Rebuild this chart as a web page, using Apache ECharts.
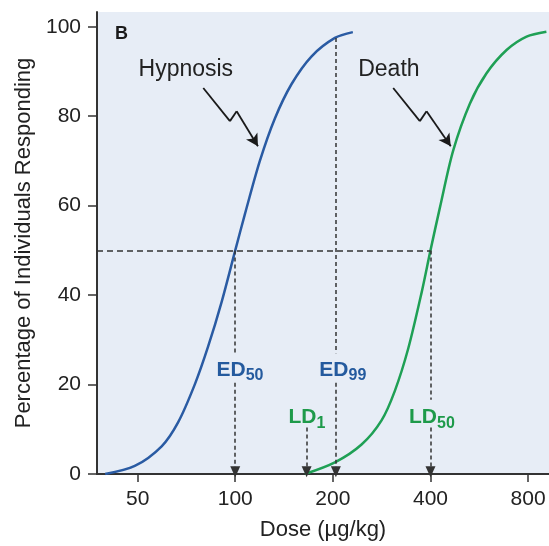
<!DOCTYPE html>
<html>
<head>
<meta charset="utf-8">
<script src="https://cdn.jsdelivr.net/npm/echarts@6/dist/echarts.min.js"></script>
<style>
  html, body { margin: 0; padding: 0; background: #fff; }
  #chart { width: 549px; height: 546px; }
</style>
</head>
<body>
<div id="chart"></div>
<script>
// dose (ug/kg) and % responding
var hypnosisDose = [39.7, 49.0, 59.3, 66.7, 75.1, 82.4, 90.8, 100, 107.1, 119.1, 132.5, 149.2, 172.0, 202.9, 230.5];
var hypnosisPct  = [0, 1.8, 6.2, 11.6, 20.1, 28.4, 38.5, 50, 58.1, 70.0, 79.5, 87.2, 93.4, 97.5, 98.8];
var deathDose = [164, 202.9, 245.2, 282.6, 310.6, 341.4, 375.4, 400, 427.5, 469.9, 529, 595.6, 686.6, 791.2, 911];
var deathPct  = [0, 2.6, 6.6, 12.0, 18.6, 28.0, 40.5, 50, 59.5, 72.3, 82.8, 89.6, 94.8, 97.8, 98.9];

var doseTicks = [50, 100, 200, 400, 800];
var pctTicks = [0, 20, 40, 60, 80, 100];
var doseRange = [37.47, 928];
var pctRange = [0, 103.3];

// guide lines: [dose1, pct1, dose2, pct2, arrowAtEnd]
var guideLines = [
  [37.47, 50, 400, 50, false],
  [100, 50, 100, 27, false],
  [100, 20.4, 100, 0.5, true],
  [204.3, 97.5, 204.3, 27, false],
  [204.3, 20.4, 204.3, 0.5, true],
  [166, 10.4, 166, 0.5, true],
  [400, 50, 400, 16.6, false],
  [400, 10.4, 400, 0.5, true]
];
// zigzag pointers: [dose, pct] vertices
var hypnosisPointer = [[79.7, 86.3], [96.3, 78.9], [101.0, 81.1], [117.5, 73.3]];
var deathPointer = [[307, 86.3], [370.9, 78.9], [389, 81.1], [462, 73.3]];

// text labels
var curveNames = [['Hypnosis', 70.4, 90.3], ['Death', 297.7, 90.3]];
var doseMarks = [
  ['ED', '50', 103.4, 23.2, 'blue'],
  ['ED', '99', 214.7, 23.2, 'blue'],
  ['LD', '1', 166.3, 12.6, 'green'],
  ['LD', '50', 404, 12.6, 'green']
];

var BLUE = '#2a5ba3';
var GREEN = '#1fa055';
var LBLUE = '#245a9e';
var LGREEN = '#1e9a4a';
var INK = '#222';
var FONT = 'Liberation Sans';

function lx(d) { return Math.log2(d); }
function zip(xs, ys) { return xs.map(function (x, i) { return [lx(x), ys[i]]; }); }

var markData = [];
guideLines.forEach(function (g) {
  markData.push([
    { coord: [lx(g[0]), g[1]], symbol: 'none' },
    { coord: [lx(g[2]), g[3]], symbol: g[4] ? 'triangle' : 'none', symbolSize: [10, 11],
      lineStyle: { type: g[1] === g[3] ? [6, 4] : [4, 3], color: '#333', width: 1.5 } }
  ]);
});
[hypnosisPointer, deathPointer].forEach(function (p) {
  for (var i = 0; i < p.length - 1; i++) {
    var last = i === p.length - 2;
    markData.push([
      { coord: [lx(p[i][0]), p[i][1]], symbol: 'none' },
      { coord: [lx(p[i + 1][0]), p[i + 1][1]], symbol: last ? 'arrow' : 'none', symbolSize: [10, 12],
        lineStyle: { type: 'solid', color: '#1a1a1a', width: 1.8 } }
    ]);
  }
});

var textData = [];
curveNames.forEach(function (c) {
  textData.push({ value: [lx(c[1]), c[2]], label: { formatter: c[0], color: INK, fontSize: 23 } });
});
doseMarks.forEach(function (m) {
  var col = m[4] === 'blue' ? LBLUE : LGREEN;
  textData.push({
    value: [lx(m[2]), m[3]],
    label: {
      formatter: '{a|' + m[0] + '}{b|' + m[1] + '}',
      rich: {
        a: { fontSize: 21, fontWeight: 'bold', color: col, fontFamily: FONT },
        b: { fontSize: 16, fontWeight: 'bold', color: col, fontFamily: FONT, padding: [11, 0, 0, 0] }
      }
    }
  });
});

var chart = echarts.init(document.getElementById('chart'));

var option = {
  animation: false,
  textStyle: { fontFamily: FONT },
  title: {
    text: 'B', left: 110, top: 20,
    textStyle: { fontSize: 18, fontWeight: 'bold', color: '#1a1a1a', fontFamily: FONT }
  },
  grid: {
    left: 97, right: 0, top: 12, bottom: 69,
    show: true, backgroundColor: '#e7edf6', borderWidth: 0
  },
  xAxis: {
    type: 'value',
    min: lx(doseRange[0]), max: lx(doseRange[1]),
    name: 'Dose (\u00b5g/kg)', nameLocation: 'middle', nameGap: 45,
    nameTextStyle: { fontSize: 22, color: INK, fontFamily: FONT },
    axisLine: { lineStyle: { color: '#333', width: 2 } },
    axisTick: { customValues: doseTicks.map(lx), length: 8, lineStyle: { color: '#333', width: 1.5 } },
    axisLabel: {
      customValues: doseTicks.map(lx), margin: 15, fontSize: 21, color: INK,
      formatter: function (v) { return Math.round(Math.pow(2, v)); }
    },
    splitLine: { show: false }
  },
  yAxis: {
    type: 'value',
    min: pctRange[0], max: pctRange[1],
    name: 'Percentage of Individuals Responding', nameLocation: 'middle', nameGap: 54,
    nameTextStyle: { fontSize: 22, color: INK, fontFamily: FONT },
    axisLine: { show: true, lineStyle: { color: '#333', width: 2 } },
    axisTick: { show: true, customValues: pctTicks, length: 9, lineStyle: { color: '#333', width: 1.5 } },
    axisLabel: { customValues: pctTicks, margin: 16, fontSize: 21, color: INK },
    splitLine: { show: false }
  },
  series: [{
    name: 'Hypnosis',
    type: 'line',
    data: zip(hypnosisDose, hypnosisPct),
    smooth: 0.3,
    symbol: 'none',
    lineStyle: { color: BLUE, width: 2.5 },
    z: 3
  }, {
    name: 'Death',
    type: 'line',
    data: zip(deathDose, deathPct),
    smooth: 0.3,
    symbol: 'none',
    lineStyle: { color: GREEN, width: 2.5 },
    z: 3
  }, {
    name: 'guides',
    type: 'line',
    data: [],
    markLine: {
      silent: true,
      animation: false,
      label: { show: false },
      emphasis: { disabled: true },
      lineStyle: { color: '#333', width: 1.5 },
      itemStyle: { color: '#1a1a1a' },
      data: markData
    }
  }, {
    name: 'labels',
    type: 'scatter',
    symbolSize: 0,
    silent: true,
    itemStyle: { opacity: 1 },
    label: { show: true, position: 'inside', fontFamily: FONT, opacity: 1 },
    data: textData,
    z: 4
  }]
};

chart.setOption(option);
</script>
</body>
</html>
